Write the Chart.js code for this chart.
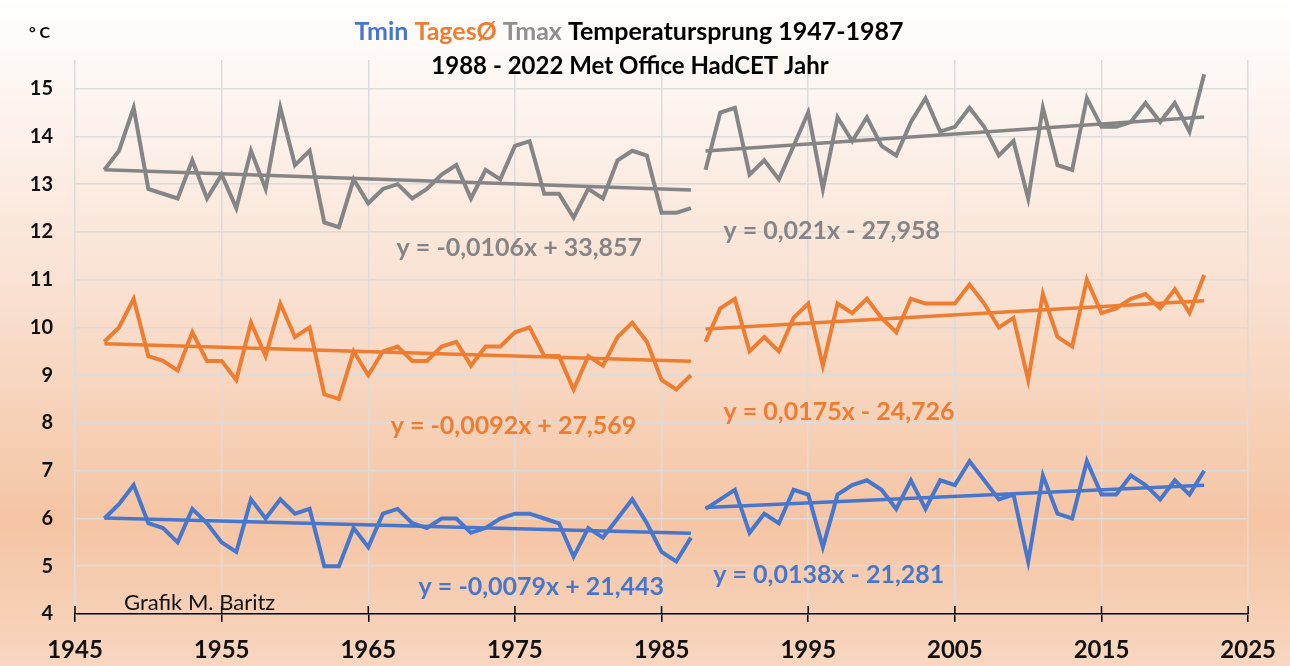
<!DOCTYPE html>
<html lang="de">
  <head>
    <meta charset="UTF-8" />
    <title>Temperatursprung HadCET</title>
    <script src="https://cdn.jsdelivr.net/npm/chart.js"></script>
    <style>
      body {
        margin: 0;
        background: #ffffff;
      }
      #chart {
        display: block;
      }
    </style>
  </head>
  <body>
    <canvas id="chart" width="1290" height="666"></canvas>
    <script>
      // Jahre
      const years1 = [1947, 1948, 1949, 1950, 1951, 1952, 1953, 1954, 1955, 1956, 1957, 1958, 1959, 1960,
        1961, 1962, 1963, 1964, 1965, 1966, 1967, 1968, 1969, 1970, 1971, 1972, 1973, 1974, 1975, 1976,
        1977, 1978, 1979, 1980, 1981, 1982, 1983, 1984, 1985, 1986, 1987];
      const years2 = [1988, 1989, 1990, 1991, 1992, 1993, 1994, 1995, 1996, 1997, 1998, 1999, 2000, 2001,
        2002, 2003, 2004, 2005, 2006, 2007, 2008, 2009, 2010, 2011, 2012, 2013, 2014, 2015, 2016, 2017,
        2018, 2019, 2020, 2021, 2022];

      // Tmax
      const tmax1 = [13.3, 13.7, 14.6, 12.9, 12.8, 12.7, 13.5, 12.7, 13.2, 12.5, 13.7, 12.9, 14.6, 13.4,
        13.7, 12.2, 12.1, 13.1, 12.6, 12.9, 13.0, 12.7, 12.9, 13.2, 13.4, 12.7, 13.3, 13.1, 13.8, 13.9,
        12.8, 12.8, 12.3, 12.9, 12.7, 13.5, 13.7, 13.6, 12.4, 12.4, 12.5];
      const tmax2 = [13.3, 14.5, 14.6, 13.2, 13.5, 13.1, 13.8, 14.5, 12.9, 14.4, 13.9, 14.4, 13.8, 13.6,
        14.3, 14.8, 14.1, 14.2, 14.6, 14.2, 13.6, 13.9, 12.7, 14.6, 13.4, 13.3, 14.8, 14.2, 14.2, 14.3,
        14.7, 14.3, 14.7, 14.1, 15.3];

      // Tagesmittel
      const tmean1 = [9.7, 10.0, 10.6, 9.4, 9.3, 9.1, 9.9, 9.3, 9.3, 8.9, 10.1, 9.4, 10.5, 9.8,
        10.0, 8.6, 8.5, 9.5, 9.0, 9.5, 9.6, 9.3, 9.3, 9.6, 9.7, 9.2, 9.6, 9.6, 9.9, 10.0,
        9.4, 9.4, 8.7, 9.4, 9.2, 9.8, 10.1, 9.7, 8.9, 8.7, 9.0];
      const tmean2 = [9.7, 10.4, 10.6, 9.5, 9.8, 9.5, 10.2, 10.5, 9.2, 10.5, 10.3, 10.6, 10.2, 9.9,
        10.6, 10.5, 10.5, 10.5, 10.9, 10.5, 10.0, 10.2, 8.9, 10.7, 9.8, 9.6, 11.0, 10.3, 10.4, 10.6,
        10.7, 10.4, 10.8, 10.3, 11.1];

      // Tmin
      const tmin1 = [6.0, 6.3, 6.7, 5.9, 5.8, 5.5, 6.2, 5.9, 5.5, 5.3, 6.4, 6.0, 6.4, 6.1,
        6.2, 5.0, 5.0, 5.8, 5.4, 6.1, 6.2, 5.9, 5.8, 6.0, 6.0, 5.7, 5.8, 6.0, 6.1, 6.1,
        6.0, 5.9, 5.2, 5.8, 5.6, 6.0, 6.4, 5.9, 5.3, 5.1, 5.6];
      const tmin2 = [6.2, 6.4, 6.6, 5.7, 6.1, 5.9, 6.6, 6.5, 5.4, 6.5, 6.7, 6.8, 6.6, 6.2,
        6.8, 6.2, 6.8, 6.7, 7.2, 6.8, 6.4, 6.5, 5.1, 6.9, 6.1, 6.0, 7.2, 6.5, 6.5, 6.9,
        6.7, 6.4, 6.8, 6.5, 7.0];

      const xTicks = [1945, 1955, 1965, 1975, 1985, 1995, 2005, 2015, 2025];
      const yTicks = [4, 5, 6, 7, 8, 9, 10, 11, 12, 13, 14, 15];

      const colMax = "#858585";
      const colMean = "#ED7D31";
      const colMin = "#4777CD";

      // Gleichungen der Trendlinien, an Datenkoordinaten verankert
      const equations = [
        { text: "y = -0,0106x + 33,857", color: colMax, x: 1975.3, y: 11.67 },
        { text: "y = 0,021x - 27,958", color: colMax, x: 1996.6, y: 12.02 },
        { text: "y = -0,0092x + 27,569", color: colMean, x: 1974.9, y: 7.94 },
        { text: "y = 0,0175x - 24,726", color: colMean, x: 1997.1, y: 8.23 },
        { text: "y = -0,0079x + 21,443", color: colMin, x: 1976.8, y: 4.57 },
        { text: "y = 0,0138x - 21,281", color: colMin, x: 1996.4, y: 4.82 },
      ];

      function pts(xs, ys) {
        return xs.map((x, i) => ({ x: x, y: ys[i] }));
      }

      // lineare Regression fuer die Trendlinie
      function trend(xs, ys) {
        const n = xs.length;
        let sx = 0, sy = 0, sxx = 0, sxy = 0;
        for (let i = 0; i < n; i++) {
          sx += xs[i]; sy += ys[i]; sxx += xs[i] * xs[i]; sxy += xs[i] * ys[i];
        }
        const a = (n * sxy - sx * sy) / (n * sxx - sx * sx);
        const b = (sy - a * sx) / n;
        const x0 = xs[0], x1 = xs[n - 1];
        return [{ x: x0, y: a * x0 + b }, { x: x1, y: a * x1 + b }];
      }

      function series(data, color, width) {
        return {
          data: data,
          borderColor: color,
          borderWidth: width,
          pointRadius: 0,
          tension: 0,
          fill: false,
        };
      }

      const bgPlugin = {
        id: "bg",
        beforeDraw(chart) {
          const c = chart.ctx;
          const g = c.createLinearGradient(0, 0, 0, chart.height);
          g.addColorStop(0, "#ffffff");
          g.addColorStop(0.45, "#f9e0d0");
          g.addColorStop(0.78, "#f5c5a4");
          g.addColorStop(1, "#f8d6c0");
          c.save();
          c.fillStyle = g;
          c.fillRect(0, 0, chart.width, chart.height);
          c.restore();
        },
      };

      const textPlugin = {
        id: "texts",
        afterDraw(chart) {
          const c = chart.ctx;
          const xs = chart.scales.x;
          const ys = chart.scales.y;
          c.save();

          // Kreuz-Teilstriche oberhalb der x-Achse
          c.strokeStyle = "#000";
          c.lineWidth = 1.5;
          xTicks.forEach((v) => {
            const px = xs.getPixelForValue(v);
            c.beginPath();
            c.moveTo(px, ys.bottom);
            c.lineTo(px, ys.bottom - 8);
            c.stroke();
          });

          // Titel
          c.font = "bold 25px Lato";
          c.textBaseline = "alphabetic";
          const parts = [
            ["Tmin ", colMin],
            ["TagesØ ", colMean],
            ["Tmax ", "#8f8f8f"],
            ["Temperatursprung 1947-1987", "#000"],
          ];
          let total = 0;
          parts.forEach((p) => (total += c.measureText(p[0]).width));
          let x = 629 - total / 2;
          parts.forEach((p) => {
            c.fillStyle = p[1];
            c.textAlign = "left";
            c.fillText(p[0], x, 40);
            x += c.measureText(p[0]).width;
          });
          c.fillStyle = "#000";
          c.textAlign = "center";
          c.font = "bold 24px Lato";
          c.fillText("1988 - 2022 Met Office HadCET Jahr", 630, 74);

          c.font = "bold 16px Lato";
          c.textAlign = "left";
          c.fillText("° C", 29, 38);

          // Trendgleichungen
          c.font = "bold 25px Lato";
          c.textAlign = "center";
          c.textBaseline = "middle";
          equations.forEach((e) => {
            c.fillStyle = e.color;
            c.fillText(e.text, xs.getPixelForValue(e.x), ys.getPixelForValue(e.y));
          });

          c.font = "22px Lato";
          c.fillStyle = "#111";
          c.fillText("Grafik M. Baritz", xs.getPixelForValue(1953.5), ys.getPixelForValue(4.23));
          c.restore();
        },
      };

      new Chart(document.getElementById("chart"), {
        type: "line",
        data: {
          datasets: [
            series(pts(years1, tmax1), colMax, 4),
            series(pts(years2, tmax2), colMax, 4),
            series(trend(years1, tmax1), colMax, 3.5),
            series(trend(years2, tmax2), colMax, 3.5),
            series(pts(years1, tmean1), colMean, 4),
            series(pts(years2, tmean2), colMean, 4),
            series(trend(years1, tmean1), colMean, 3.5),
            series(trend(years2, tmean2), colMean, 3.5),
            series(pts(years1, tmin1), colMin, 4),
            series(pts(years2, tmin2), colMin, 4),
            series(trend(years1, tmin1), colMin, 3.5),
            series(trend(years2, tmin2), colMin, 3.5),
          ],
        },
        options: {
          responsive: false,
          animation: false,
          layout: { padding: { top: 60, right: 39, left: 0, bottom: 0 } },
          plugins: {
            legend: { display: false },
            tooltip: { enabled: false },
          },
          scales: {
            x: {
              type: "linear",
              min: 1945,
              max: 2025,
              afterBuildTicks: (s) => {
                s.ticks = xTicks.map((v) => ({ value: v }));
              },
              afterFit: (s) => {
                s.height = 52;
              },
              grid: {
                color: "#dcdcdc",
                lineWidth: 1.5,
                tickColor: "#000",
                tickLength: 8,
              },
              border: { color: "#000", width: 1.5 },
              ticks: {
                color: "#111",
                font: { family: "Lato", size: 24, weight: "bold" },
                padding: 14,
                maxRotation: 0,
                callback: (v) => String(v),
              },
            },
            y: {
              min: 4,
              max: 15.6,
              afterBuildTicks: (s) => {
                s.ticks = yTicks.map((v) => ({ value: v }));
              },
              afterFit: (s) => {
                s.width = 75;
              },
              grid: {
                color: "#dcdcdc",
                lineWidth: 1.5,
                drawTicks: false,
              },
              border: { display: false },
              ticks: {
                color: "#111",
                font: { family: "Lato", size: 20, weight: "bold" },
                padding: 22,
              },
            },
          },
        },
        plugins: [bgPlugin, textPlugin],
      });
    </script>
  </body>
</html>
